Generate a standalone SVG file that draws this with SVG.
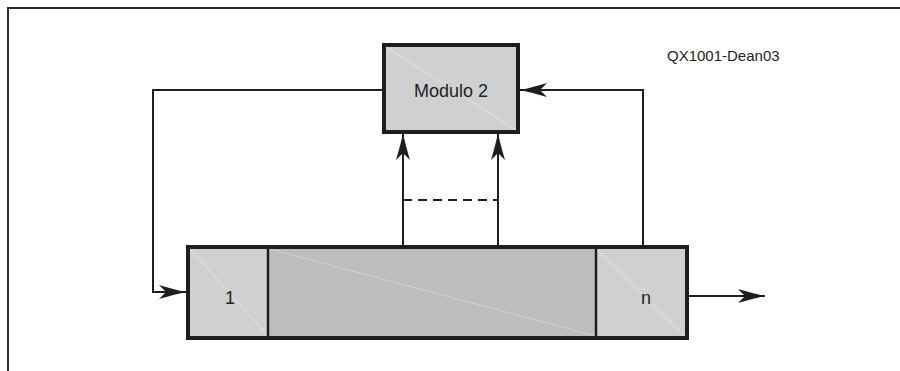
<svg xmlns="http://www.w3.org/2000/svg" width="900" height="371" viewBox="0 0 900 371">
  <style>
    .frame { fill: none; stroke: #2a2a2a; stroke-width: 2; }
    .box { stroke: #1e1e1e; stroke-width: 4; }
    .cell { stroke: #1e1e1e; stroke-width: 2.5; }
    .light { fill: #cfd0d2; }
    .dark { fill: #bcbdbf; }
    .diag { stroke: #e6e7e8; stroke-width: 0.8; }
    .wire { fill: none; stroke: #1e1e1e; stroke-width: 2; }
    .dash { fill: none; stroke: #1e1e1e; stroke-width: 2; stroke-dasharray: 9 6; }
    .label { font-family: "Liberation Sans", Arial, sans-serif; fill: #231f20; }
  </style>
  <defs>
    <marker id="arrow" markerUnits="userSpaceOnUse" markerWidth="30" markerHeight="16" viewBox="-28 -8 30 16" refX="0" refY="0" orient="auto">
      <path d="M0,0 Q-12,-2.5 -27,-7 L-20,0 L-27,7 Q-12,2.5 0,0 Z" fill="#1e1e1e"/>
    </marker>
  </defs>

  <!-- outer frame -->
  <path class="frame" d="M8,371 L8,8 L900,8"/>

  <!-- connectors -->
  <g id="connectors">
    <path class="wire" d="M383,90 L153,90 L153,292 L186,292" marker-end="url(#arrow)"/>
    <path class="wire" d="M643,246 L643,90 L520,90" marker-end="url(#arrow)"/>
    <path class="wire" d="M403,246 L403,133" marker-end="url(#arrow)"/>
    <path class="wire" d="M498,246 L498,133" marker-end="url(#arrow)"/>
    <path class="dash" d="M403,200 L498,200"/>
    <path class="wire" d="M688,296 L765,296" marker-end="url(#arrow)"/>
  </g>

  <!-- Modulo 2 block -->
  <g id="modulo2">
    <rect class="box light" x="384" y="45" width="134" height="87"/>
    <line class="diag" x1="386" y1="47" x2="516" y2="130"/>
    <text class="label" x="451" y="97" font-size="18" text-anchor="middle">Modulo 2</text>
  </g>

  <!-- shift register -->
  <g id="register">
    <rect class="box dark" x="188" y="247" width="499" height="91"/>
    <g id="cell-1">
      <rect class="light" x="190" y="249" width="78" height="87"/>
      <line class="diag" x1="190" y1="249" x2="268" y2="336"/>
      <text class="label" x="230" y="304" font-size="18" text-anchor="middle">1</text>
    </g>
    <g id="cell-mid">
      <line class="diag" x1="270" y1="249" x2="596" y2="336" stroke-opacity="0.6"/>
    </g>
    <g id="cell-n">
      <rect class="light" x="596" y="249" width="89" height="87"/>
      <line class="diag" x1="596" y1="249" x2="685" y2="336"/>
      <text class="label" x="646" y="304" font-size="18" text-anchor="middle">n</text>
    </g>
    <line class="cell" x1="268" y1="247" x2="268" y2="338"/>
    <line class="cell" x1="596" y1="247" x2="596" y2="338"/>
    <rect class="box" x="188" y="247" width="499" height="91" fill="none"/>
  </g>

  <!-- figure tag -->
  <g id="tag">
    <text class="label" x="667" y="61" font-size="15">QX1001-Dean03</text>
  </g>
</svg>
